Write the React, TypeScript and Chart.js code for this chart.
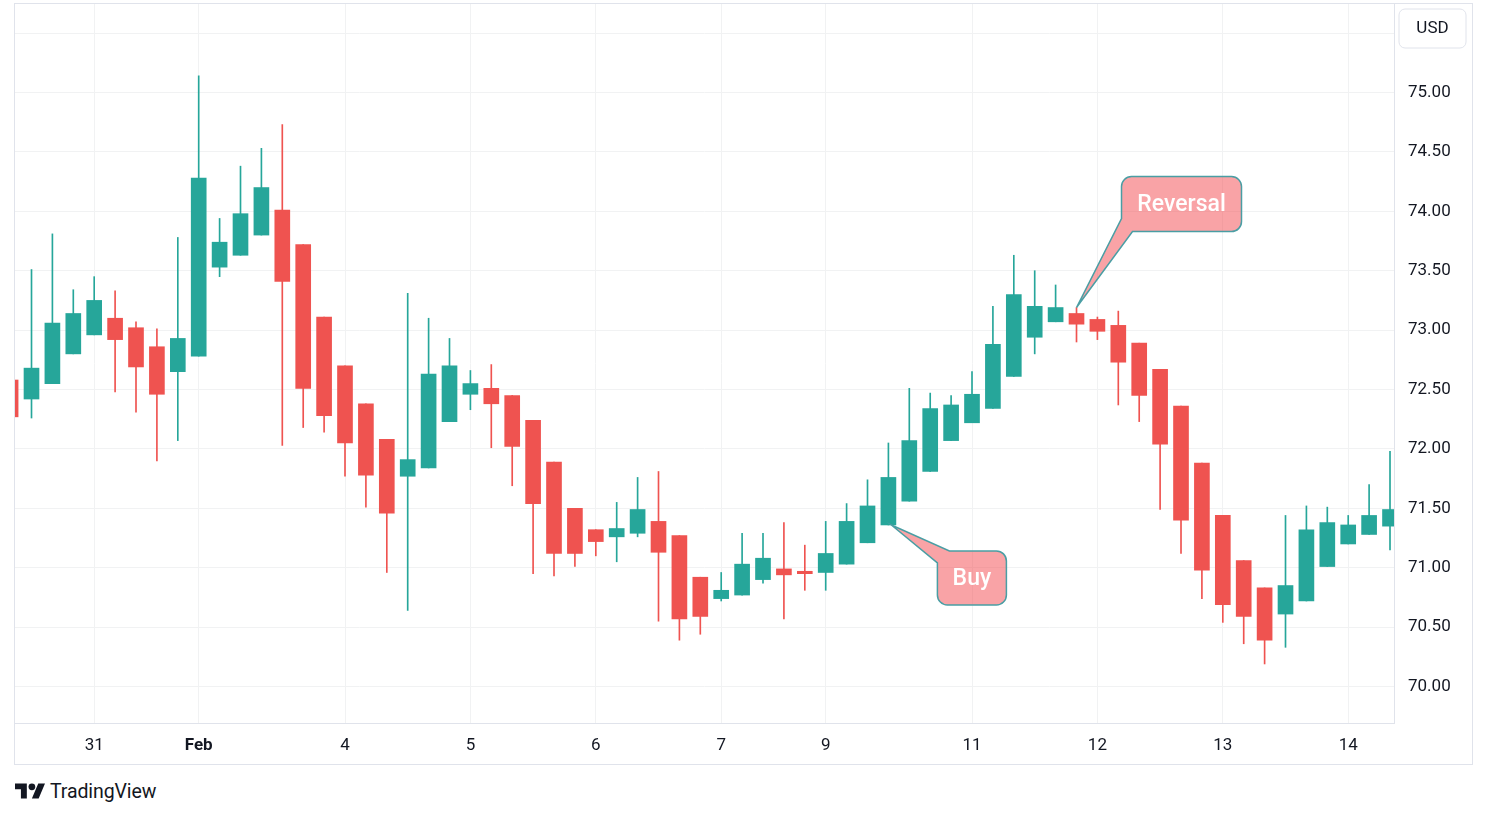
import React, { useEffect, useRef } from 'react';
import { Chart, registerables } from 'chart.js';

Chart.register(...registerables);

// ---- data ----
const opens = [
  72.58, 72.42, 72.55, 72.8, 72.96, 73.1, 73.02, 72.86, 72.65, 72.78,
  73.53, 73.63, 73.8, 74.01, 73.72, 73.11, 72.7, 72.38, 72.08, 71.77,
  71.84, 72.23, 72.46, 72.51, 72.45, 72.24, 71.89, 71.5, 71.32, 71.26,
  71.29, 71.39, 71.27, 70.92, 70.74, 70.77, 70.9, 70.99, 70.97, 70.96,
  71.03, 71.21, 71.36, 71.56, 71.81, 72.07, 72.22, 72.34, 72.61, 72.94,
  73.07, 73.14, 73.09, 73.04, 72.89, 72.67, 72.36, 71.88, 71.44, 71.06,
  70.83, 70.61, 70.72, 71.01, 71.2, 71.28, 71.35,
];
const highs = [
  72.6, 73.51, 73.81, 73.34, 73.45, 73.33, 73.07, 73.01, 73.78, 75.14,
  73.94, 74.38, 74.53, 74.73, 73.72, 73.11, 72.7, 72.38, 72.08, 73.31,
  73.1, 72.93, 72.66, 72.71, 72.45, 72.24, 71.89, 71.5, 71.32, 71.55,
  71.76, 71.81, 71.27, 70.92, 70.96, 71.29, 71.29, 71.38, 71.19, 71.39,
  71.54, 71.74, 72.05, 72.51, 72.47, 72.45, 72.65, 73.2, 73.63, 73.5,
  73.38, 73.19, 73.11, 73.16, 72.89, 72.67, 72.36, 71.88, 71.44, 71.06,
  70.83, 71.44, 71.52, 71.51, 71.44, 71.7, 71.98,
];
const lows = [
  72.25, 72.26, 72.55, 72.8, 72.96, 72.48, 72.31, 71.9, 72.07, 72.78,
  73.45, 73.63, 73.8, 72.03, 72.18, 72.14, 71.77, 71.51, 70.96, 70.64,
  71.84, 72.23, 72.33, 72.01, 71.69, 70.95, 70.93, 71.01, 71.1, 71.05,
  71.26, 70.55, 70.39, 70.44, 70.72, 70.77, 70.87, 70.57, 70.81, 70.81,
  71.03, 71.21, 71.36, 71.56, 71.81, 72.07, 72.22, 72.34, 72.61, 72.8,
  73.07, 72.9, 72.92, 72.37, 72.23, 71.49, 71.12, 70.74, 70.54, 70.36,
  70.19, 70.33, 70.72, 71.01, 71.2, 71.28, 71.15,
];
const closes = [
  72.27, 72.68, 73.06, 73.14, 73.25, 72.92, 72.69, 72.46, 72.93, 74.28,
  73.74, 73.98, 74.2, 73.41, 72.51, 72.28, 72.05, 71.78, 71.46, 71.91,
  72.63, 72.7, 72.55, 72.38, 72.02, 71.54, 71.12, 71.12, 71.22, 71.33,
  71.49, 71.13, 70.57, 70.59, 70.81, 71.03, 71.08, 70.94, 70.95, 71.12,
  71.39, 71.52, 71.76, 72.07, 72.34, 72.37, 72.46, 72.88, 73.3, 73.2,
  73.19, 73.05, 72.99, 72.73, 72.45, 72.04, 71.4, 70.98, 70.69, 70.59,
  70.39, 70.85, 71.32, 71.38, 71.36, 71.44, 71.49,
];

const xTickIndex = [4, 9, 16, 22, 28, 34, 39, 46, 52, 58, 64];
const xTickLabels = ['31', 'Feb', '4', '5', '6', '7', '9', '11', '12', '13', '14'];
const boldTickIndex = [9];
const yTicks = [70, 70.5, 71, 71.5, 72, 72.5, 73, 73.5, 74, 74.5, 75, 75.5];

const calloutTexts = ['Buy', 'Reversal'];
const calloutIndex = [42, 51];
const calloutPrice = [opens[42], highs[51]];

const UP = '#26a69a';
const DOWN = '#ef5350';
const GRID = '#f1f2f3';
const BORDER = '#e0e3eb';
const TEXT = '#131722';
const FONT = 'Roboto, "Noto Sans", "DejaVu Sans", sans-serif';

const calloutBoxes = [
  { dx: 49, dy: 26, w: 69, h: 54, corner: 'tl', tipDx: 3 },
  { dx: 45, dy: -131, w: 120, h: 55, corner: 'bl', tipDx: 0 },
];

const calloutPlugin = {
  id: 'callouts',
  afterDatasetsDraw(chart: any) {
    const { ctx } = chart;
    const xs = chart.scales.x;
    const ys = chart.scales.y;
    calloutTexts.forEach((text, k) => {
      const b = calloutBoxes[k];
      const tx = xs.getPixelForValue(calloutIndex[k]) + b.tipDx;
      const ty = ys.getPixelForValue(calloutPrice[k]);
      const L = tx - b.tipDx + b.dx;
      const T = ty + b.dy;
      const R = L + b.w;
      const B = T + b.h;
      const r = 10;
      ctx.save();
      ctx.beginPath();
      if (b.corner === 'tl') {
        ctx.moveTo(L + 12, T);
        ctx.lineTo(R - r, T);
        ctx.arcTo(R, T, R, T + r, r);
        ctx.lineTo(R, B - r);
        ctx.arcTo(R, B, R - r, B, r);
        ctx.lineTo(L + r, B);
        ctx.arcTo(L, B, L, B - r, r);
        ctx.lineTo(L, T + 12);
        ctx.lineTo(tx, ty);
        ctx.closePath();
      } else {
        ctx.moveTo(L + r, T);
        ctx.lineTo(R - r, T);
        ctx.arcTo(R, T, R, T + r, r);
        ctx.lineTo(R, B - r);
        ctx.arcTo(R, B, R - r, B, r);
        ctx.lineTo(L + 11, B);
        ctx.lineTo(tx, ty);
        ctx.lineTo(L, B - 13);
        ctx.lineTo(L, T + r);
        ctx.arcTo(L, T, L + r, T, r);
        ctx.closePath();
      }
      ctx.fillStyle = 'rgba(243, 71, 77, 0.5)';
      ctx.fill();
      ctx.lineWidth = 1.5;
      ctx.strokeStyle = '#4a9ea4';
      ctx.stroke();
      ctx.fillStyle = '#ffffff';
      ctx.font = `500 23px ${FONT}`;
      ctx.textAlign = 'center';
      ctx.textBaseline = 'middle';
      ctx.fillText(text, (L + R) / 2, (T + B) / 2 + 1);
      ctx.restore();
    });
  },
};

const framePlugin = {
  id: 'frame',
  afterDraw(chart: any) {
    const { ctx, width, height, chartArea } = chart;
    ctx.save();
    ctx.strokeStyle = BORDER;
    ctx.lineWidth = 1;
    ctx.strokeRect(0.5, 0.5, width - 1, height - 1);
    // currency label box
    const bx = chartArea.right + 5;
    const by = 6;
    ctx.beginPath();
    ctx.roundRect(bx, by, 67, 39, 6);
    ctx.fillStyle = '#ffffff';
    ctx.fill();
    ctx.strokeStyle = BORDER;
    ctx.stroke();
    ctx.fillStyle = TEXT;
    ctx.font = `17px ${FONT}`;
    ctx.textAlign = 'center';
    ctx.textBaseline = 'middle';
    ctx.fillText('USD', bx + 33.5, by + 20);
    ctx.restore();
  },
};

export default function App() {
  const ref = useRef<HTMLCanvasElement | null>(null);

  useEffect(() => {
    if (!ref.current) return;
    const idx = opens.map((_, i) => i);
    const colors = idx.map((i) => (closes[i] >= opens[i] ? UP : DOWN));
    const chart = new Chart(ref.current, {
      type: 'bar',
      data: {
        datasets: [
          {
            label: 'bodies',
            data: idx.map((i) => ({ x: i, y: [opens[i], closes[i]] })) as any,
            backgroundColor: colors,
            barThickness: 15,
            minBarLength: 1,
            grouped: false,
            order: 0,
          } as any,
          {
            label: 'wicks',
            data: idx.map((i) => ({ x: i, y: [lows[i], highs[i]] })) as any,
            backgroundColor: colors,
            barThickness: 1,
            grouped: false,
            order: 1,
          } as any,
        ],
      },
      options: {
        responsive: false,
        maintainAspectRatio: false,
        animation: false,
        layout: { padding: { left: 1, top: 1, right: 0, bottom: 0 } },
        plugins: {
          legend: { display: false },
          tooltip: { enabled: false },
        },
        scales: {
          x: {
            type: 'linear',
            min: 0.2105,
            max: 66.191,
            offset: false,
            afterBuildTicks: (s: any) => {
              s.ticks = xTickIndex.map((v) => ({ value: v }));
            },
            afterFit: (s: any) => {
              s.height = 42;
              s.paddingLeft = 0;
              s.paddingRight = 0;
              s.paddingTop = 0;
              s.paddingBottom = 0;
            },
            grid: { color: GRID, drawTicks: false, offset: false },
            border: { display: true, color: BORDER },
            ticks: {
              autoSkip: false,
              maxRotation: 0,
              padding: 13,
              color: TEXT,
              font: (c: any) => ({
                family: FONT,
                size: 17,
                weight: c.tick && boldTickIndex.includes(c.tick.value) ? 'bold' : 'normal',
              }),
              callback: (v: any) => {
                const k = xTickIndex.indexOf(Number(v));
                return k >= 0 ? xTickLabels[k] : '';
              },
            },
          },
          y: {
            position: 'right',
            min: 69.693,
            max: 75.745,
            afterBuildTicks: (s: any) => {
              s.ticks = yTicks.map((v) => ({ value: v }));
            },
            afterFit: (s: any) => {
              s.width = 79;
              s.paddingLeft = 0;
              s.paddingRight = 0;
              s.paddingTop = 0;
              s.paddingBottom = 0;
            },
            grid: { color: GRID, drawTicks: false, offset: false },
            border: { display: true, color: BORDER },
            ticks: {
              padding: 14,
              crossAlign: 'near',
              color: TEXT,
              font: { family: FONT, size: 17 },
              callback: (v: any) => (Number(v) > 75.2 ? '' : Number(v).toFixed(2)),
            },
          },
        },
      } as any,
      plugins: [calloutPlugin, framePlugin],
    });
    return () => chart.destroy();
  }, []);

  return (
    <div
      style={{
        position: 'absolute',
        left: 0,
        top: 0,
        width: 1487,
        height: 818,
        background: '#ffffff',
        overflow: 'hidden',
      }}
    >
      <canvas
        ref={ref}
        width={1459}
        height={762}
        style={{ position: 'absolute', left: 14, top: 3, width: 1459, height: 762 }}
      />
      <svg
        viewBox="0 4 35.5 18"
        width={30}
        height={16}
        style={{ position: 'absolute', left: 15, top: 783 }}
      >
        <path d="M14 22H7V11H0V4h14v18zM28 22h-8l7.5-18h8L28 22z" fill={TEXT} />
        <circle cx="20" cy="8" r="4" fill={TEXT} />
      </svg>
      <div
        style={{
          position: 'absolute',
          left: 50,
          top: 780,
          fontFamily: FONT,
          fontSize: 19.5,
          fontWeight: 400,
          color: TEXT,
          lineHeight: '24px',
          letterSpacing: '-0.1px',
        }}
      >
        TradingView
      </div>
    </div>
  );
}
